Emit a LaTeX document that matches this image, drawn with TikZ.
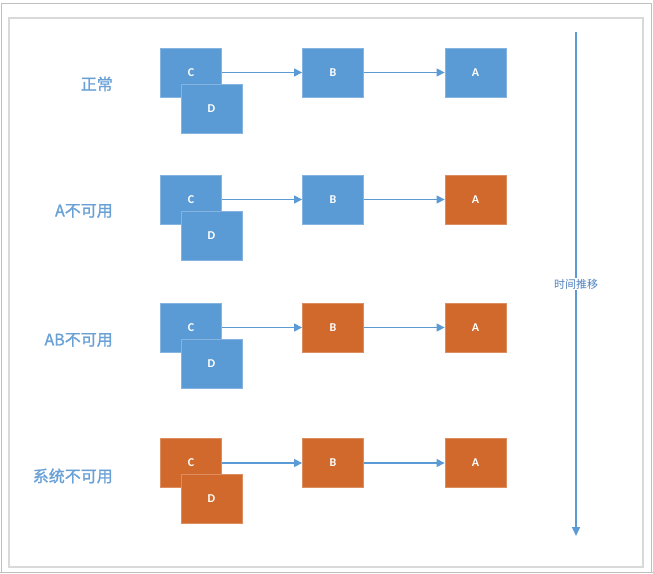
\documentclass[tikz,border=0pt]{standalone}
\usepackage{fontspec}
\setmainfont{Carlito}
\newfontfamily\cjk{Noto Sans CJK SC}
\newfontfamily\cjklab{Noto Sans CJK SC}[FakeBold=1.3]
\usetikzlibrary{arrows.meta}
\definecolor{bblue}{HTML}{5B9BD5}
\definecolor{borange}{HTML}{D0692B}
\definecolor{lblue}{HTML}{69A0D6}
\definecolor{tblue}{HTML}{4F81BD}
\definecolor{frame}{HTML}{D9D9D9}
\definecolor{oframe}{HTML}{BFBFBF}
\tikzset{
  box/.style={minimum width=61pt, minimum height=49pt, inner sep=0pt, font=\fontsize{12}{14}\selectfont\bfseries, text=white, line width=0.8pt},
  bluebox/.style={box, fill=bblue, draw=bblue!75!white},
  orbox/.style={box, fill=borange, draw=borange!75!white},
  rowlabel/.style={anchor=east, text=lblue, font=\cjklab\fontsize{16}{18}\selectfont, inner sep=0pt},
  conn/.style={draw=bblue, line width=1.2pt, -{Triangle[length=8pt,width=8pt]}},
}
\begin{document}
\begin{tikzpicture}[x=1pt,y=-1pt]
\useasboundingbox (0,0) rectangle (653,573);
% frames
\draw[oframe, line width=1pt] (1,573) -- (1,3) -- (651.5,3) -- (651.5,573);
\draw[oframe, line width=1pt] (0,572) -- (653,572);
\draw[frame, line width=2pt] (9,18) rectangle (643,567);
% time arrow
\coordinate (ts) at (576,32);
\coordinate (te) at (576,536);
\draw[draw=bblue, line width=1.5pt, -{Triangle[length=9pt,width=8pt]}] (ts) -- (te);
\node[fill=white, inner sep=1pt, text=tblue, font=\cjk\fontsize{11}{13}\selectfont] (time) at (576,284) {时间推移};
% row 1
\node[rowlabel] (l1) at (113,84) {正常};
\node[bluebox] (c1) at (191,72.5) {C};
\node[bluebox] (d1) at (211.5,108.5) {D};
\node[bluebox] (b1) at (333,72.5) {B};
\node[bluebox] (a1) at (475.5,72.5) {A};
\draw[conn] (c1.east) -- (b1.west);
\draw[conn] (b1.east) -- (a1.west);
% row 2
\node[rowlabel] (l2) at (113,211) {A不可用};
\node[bluebox] (c2) at (191,199.5) {C};
\node[bluebox] (d2) at (211.5,235.5) {D};
\node[bluebox] (b2) at (333,199.5) {B};
\node[orbox] (a2) at (475.5,199.5) {A};
\draw[conn] (c2.east) -- (b2.west);
\draw[conn] (b2.east) -- (a2.west);
% row 3
\node[rowlabel] (l3) at (113,340) {AB不可用};
\node[bluebox] (c3) at (191,327.5) {C};
\node[bluebox] (d3) at (211.5,363.5) {D};
\node[orbox] (b3) at (333,327.5) {B};
\node[orbox] (a3) at (475.5,327.5) {A};
\draw[conn] (c3.east) -- (b3.west);
\draw[conn] (b3.east) -- (a3.west);
% row 4
\node[rowlabel] (l4) at (113,476) {系统不可用};
\node[orbox] (c4) at (191,463) {C};
\node[orbox] (d4) at (211.5,499) {D};
\node[orbox] (b4) at (333,463) {B};
\node[orbox] (a4) at (475.5,463) {A};
\draw[conn] (c4.east) -- (b4.west);
\draw[conn] (b4.east) -- (a4.west);
\end{tikzpicture}
\end{document}
